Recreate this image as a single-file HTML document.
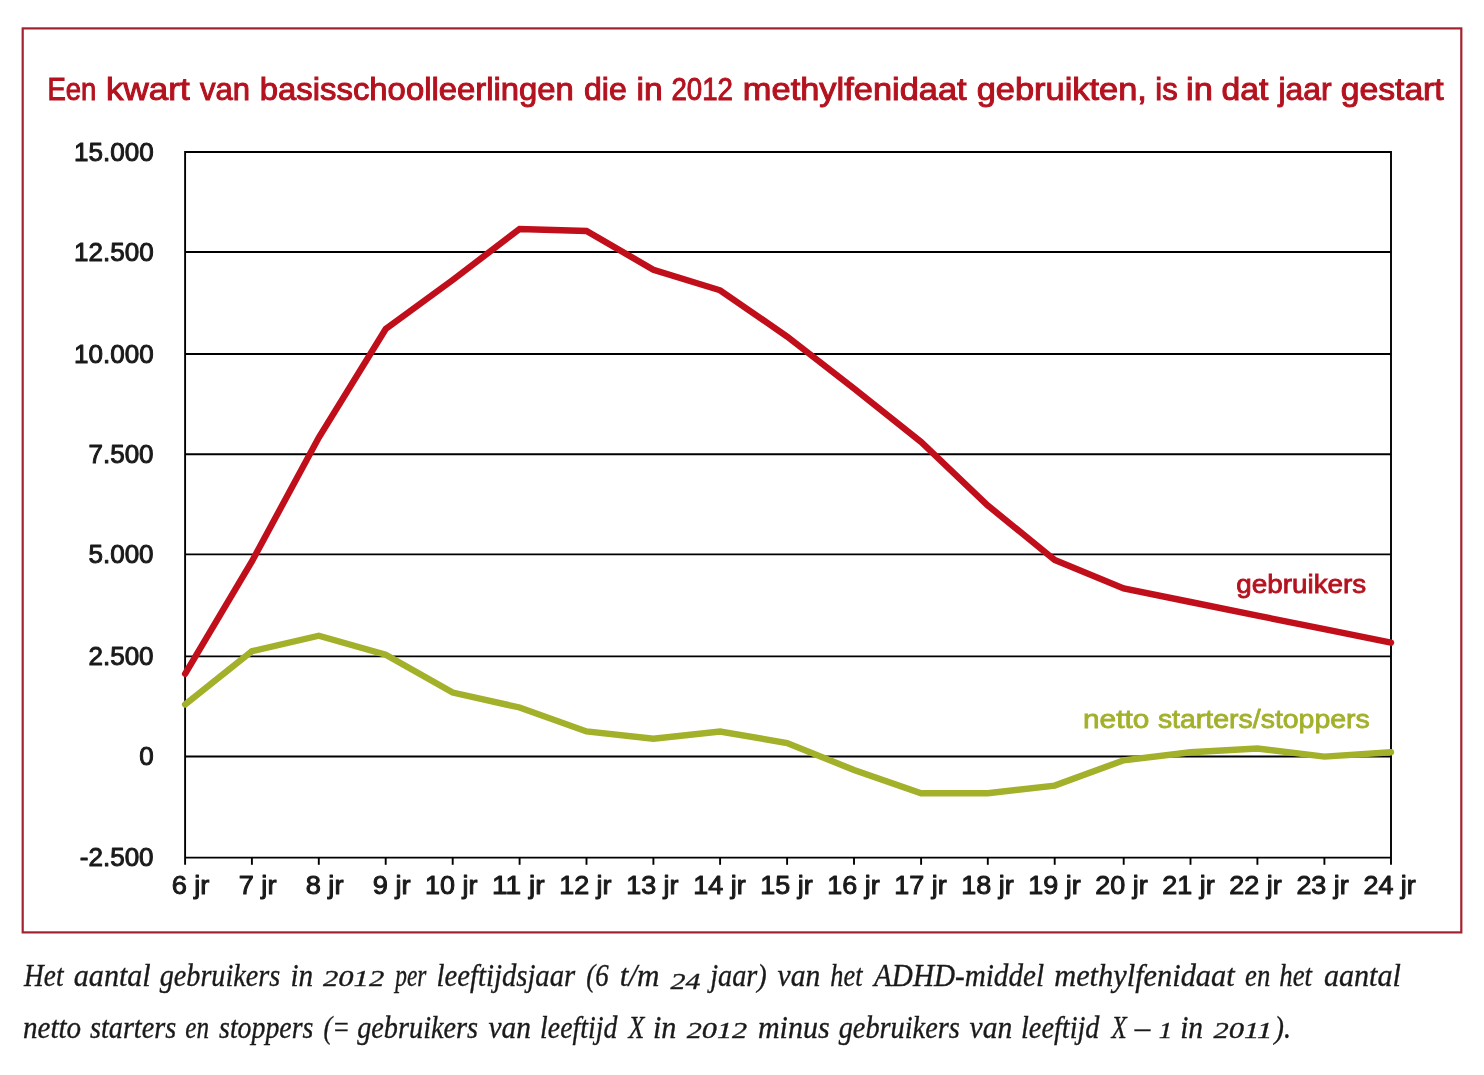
<!DOCTYPE html>
<html lang="nl"><head><meta charset="utf-8"><title>Methylfenidaat gebruikers 2012</title>
<style>
html,body{margin:0;padding:0;background:#fff;}
body{width:1484px;height:1075px;overflow:hidden;font-family:"Liberation Sans",sans-serif;}
svg{display:block;position:absolute;left:0;top:0;}
.t{font-family:"Liberation Sans",sans-serif;}
.ax{font-family:"Liberation Sans",sans-serif;font-size:26px;fill:#1a1a1a;stroke:#1a1a1a;stroke-width:1.0px;stroke-linejoin:round;}
.cap{font-family:"Liberation Serif",serif;font-style:italic;font-size:32.5px;fill:#1a1a1a;stroke:#1a1a1a;stroke-width:0.35px;}
</style></head><body>
<svg width="1484" height="1075" viewBox="0 0 1484 1075">
<rect x="0" y="0" width="1484" height="1075" fill="#ffffff"/>
<rect x="22.7" y="28.4" width="1438.6" height="904.0" fill="none" stroke="#a3222e" stroke-width="2.2"/>
<text class="t" y="100.4" font-size="32" fill="#b4121f" stroke="#b4121f" stroke-width="1.0"><tspan x="47.48" textLength="48.86" lengthAdjust="spacingAndGlyphs">Een</tspan> <tspan x="106.11" textLength="83.57" lengthAdjust="spacingAndGlyphs">kwart</tspan> <tspan x="200.10" textLength="50.04" lengthAdjust="spacingAndGlyphs">van</tspan> <tspan x="259.85" textLength="314.00" lengthAdjust="spacingAndGlyphs">basisschoolleerlingen</tspan> <tspan x="584.00" textLength="42.70" lengthAdjust="spacingAndGlyphs">die</tspan> <tspan x="636.50" textLength="26.19" lengthAdjust="spacingAndGlyphs">in</tspan> <tspan x="671.44" textLength="61.55" lengthAdjust="spacingAndGlyphs">2012</tspan> <tspan x="742.85" textLength="223.83" lengthAdjust="spacingAndGlyphs">methylfenidaat</tspan> <tspan x="976.73" textLength="170.11" lengthAdjust="spacingAndGlyphs">gebruikten,</tspan> <tspan x="1155.36" textLength="22.41" lengthAdjust="spacingAndGlyphs">is</tspan> <tspan x="1186.05" textLength="26.78" lengthAdjust="spacingAndGlyphs">in</tspan> <tspan x="1221.55" textLength="46.84" lengthAdjust="spacingAndGlyphs">dat</tspan> <tspan x="1278.49" textLength="52.97" lengthAdjust="spacingAndGlyphs">jaar</tspan> <tspan x="1340.75" textLength="102.94" lengthAdjust="spacingAndGlyphs">gestart</tspan></text>

<line x1="185.1" y1="152.0" x2="1391.0" y2="152.0" stroke="#000" stroke-width="1.9"/>
<line x1="185.1" y1="252.0" x2="1391.0" y2="252.0" stroke="#000" stroke-width="1.9"/>
<line x1="185.1" y1="354.0" x2="1391.0" y2="354.0" stroke="#000" stroke-width="1.9"/>
<line x1="185.1" y1="454.2" x2="1391.0" y2="454.2" stroke="#000" stroke-width="1.9"/>
<line x1="185.1" y1="554.35" x2="1391.0" y2="554.35" stroke="#000" stroke-width="1.9"/>
<line x1="185.1" y1="656.4" x2="1391.0" y2="656.4" stroke="#000" stroke-width="1.9"/>
<line x1="185.1" y1="756.5" x2="1391.0" y2="756.5" stroke="#000" stroke-width="1.9"/>
<line x1="185.1" y1="857.6" x2="1391.0" y2="857.6" stroke="#000" stroke-width="1.9"/>
<line x1="185.1" y1="151.0" x2="185.1" y2="864.8000000000001" stroke="#000" stroke-width="1.9"/>
<line x1="1391.0" y1="151.0" x2="1391.0" y2="864.8000000000001" stroke="#000" stroke-width="1.9"/>
<line x1="251.9" y1="857.6" x2="251.9" y2="864.8000000000001" stroke="#000" stroke-width="1.9"/>
<line x1="318.8" y1="857.6" x2="318.8" y2="864.8000000000001" stroke="#000" stroke-width="1.9"/>
<line x1="385.7" y1="857.6" x2="385.7" y2="864.8000000000001" stroke="#000" stroke-width="1.9"/>
<line x1="452.7" y1="857.6" x2="452.7" y2="864.8000000000001" stroke="#000" stroke-width="1.9"/>
<line x1="519.6" y1="857.6" x2="519.6" y2="864.8000000000001" stroke="#000" stroke-width="1.9"/>
<line x1="586.5" y1="857.6" x2="586.5" y2="864.8000000000001" stroke="#000" stroke-width="1.9"/>
<line x1="653.4" y1="857.6" x2="653.4" y2="864.8000000000001" stroke="#000" stroke-width="1.9"/>
<line x1="720.1" y1="857.6" x2="720.1" y2="864.8000000000001" stroke="#000" stroke-width="1.9"/>
<line x1="787.1" y1="857.6" x2="787.1" y2="864.8000000000001" stroke="#000" stroke-width="1.9"/>
<line x1="854.0" y1="857.6" x2="854.0" y2="864.8000000000001" stroke="#000" stroke-width="1.9"/>
<line x1="921.1" y1="857.6" x2="921.1" y2="864.8000000000001" stroke="#000" stroke-width="1.9"/>
<line x1="987.8" y1="857.6" x2="987.8" y2="864.8000000000001" stroke="#000" stroke-width="1.9"/>
<line x1="1054.7" y1="857.6" x2="1054.7" y2="864.8000000000001" stroke="#000" stroke-width="1.9"/>
<line x1="1123.7" y1="857.6" x2="1123.7" y2="864.8000000000001" stroke="#000" stroke-width="1.9"/>
<line x1="1190.5" y1="857.6" x2="1190.5" y2="864.8000000000001" stroke="#000" stroke-width="1.9"/>
<line x1="1257.4" y1="857.6" x2="1257.4" y2="864.8000000000001" stroke="#000" stroke-width="1.9"/>
<line x1="1324.4" y1="857.6" x2="1324.4" y2="864.8000000000001" stroke="#000" stroke-width="1.9"/>
<text class="ax" x="153.6" y="160.6" text-anchor="end">15.000</text>
<text class="ax" x="153.6" y="260.6" text-anchor="end">12.500</text>
<text class="ax" x="153.6" y="362.6" text-anchor="end">10.000</text>
<text class="ax" x="153.6" y="462.8" text-anchor="end">7.500</text>
<text class="ax" x="153.6" y="563.0" text-anchor="end">5.000</text>
<text class="ax" x="153.6" y="665.0" text-anchor="end">2.500</text>
<text class="ax" x="153.6" y="765.1" text-anchor="end">0</text>
<text class="ax" x="153.6" y="866.2" text-anchor="end">-2.500</text>
<text class="ax" x="171.65" y="894.3" textLength="37.79" lengthAdjust="spacingAndGlyphs">6 jr</text>
<text class="ax" x="238.67" y="894.3" textLength="37.79" lengthAdjust="spacingAndGlyphs">7 jr</text>
<text class="ax" x="305.69" y="894.3" textLength="37.79" lengthAdjust="spacingAndGlyphs">8 jr</text>
<text class="ax" x="372.71" y="894.3" textLength="37.79" lengthAdjust="spacingAndGlyphs">9 jr</text>
<text class="ax" x="425.14" y="894.3" textLength="52.38" lengthAdjust="spacingAndGlyphs">10 jr</text>
<text class="ax" x="492.12" y="894.3" textLength="52.41" lengthAdjust="spacingAndGlyphs">11 jr</text>
<text class="ax" x="559.18" y="894.3" textLength="52.38" lengthAdjust="spacingAndGlyphs">12 jr</text>
<text class="ax" x="626.20" y="894.3" textLength="52.38" lengthAdjust="spacingAndGlyphs">13 jr</text>
<text class="ax" x="693.22" y="894.3" textLength="52.38" lengthAdjust="spacingAndGlyphs">14 jr</text>
<text class="ax" x="760.24" y="894.3" textLength="52.38" lengthAdjust="spacingAndGlyphs">15 jr</text>
<text class="ax" x="827.26" y="894.3" textLength="52.38" lengthAdjust="spacingAndGlyphs">16 jr</text>
<text class="ax" x="894.28" y="894.3" textLength="52.38" lengthAdjust="spacingAndGlyphs">17 jr</text>
<text class="ax" x="961.30" y="894.3" textLength="52.38" lengthAdjust="spacingAndGlyphs">18 jr</text>
<text class="ax" x="1028.32" y="894.3" textLength="52.38" lengthAdjust="spacingAndGlyphs">19 jr</text>
<text class="ax" x="1095.34" y="894.3" textLength="52.38" lengthAdjust="spacingAndGlyphs">20 jr</text>
<text class="ax" x="1162.36" y="894.3" textLength="52.38" lengthAdjust="spacingAndGlyphs">21 jr</text>
<text class="ax" x="1229.38" y="894.3" textLength="52.38" lengthAdjust="spacingAndGlyphs">22 jr</text>
<text class="ax" x="1296.40" y="894.3" textLength="52.38" lengthAdjust="spacingAndGlyphs">23 jr</text>
<text class="ax" x="1363.42" y="894.3" textLength="52.38" lengthAdjust="spacingAndGlyphs">24 jr</text>
<polyline points="185.1,704.4 251.9,651.2 318.8,635.7 385.7,654.6 452.7,692.6 519.6,707.5 586.5,731.4 653.4,738.8 720.1,731.5 787.1,743.0 854.0,770.0 921.1,793.3 987.8,793.3 1054.7,785.6 1123.7,760.3 1190.5,752.2 1257.4,748.5 1324.4,756.6 1391.0,752.2" fill="none" stroke="#a3b02a" stroke-width="6.4" stroke-linejoin="miter" stroke-linecap="round"/>
<polyline points="185.1,673.8 251.9,561.4 318.8,437.5 385.7,329.0 452.7,280.0 519.6,229.0 586.5,231.0 653.4,269.7 720.1,290.3 787.1,336.5 854.0,388.5 921.1,441.9 987.8,505.5 1054.7,559.9 1123.7,588.5 1190.5,602.0 1257.4,615.6 1324.4,629.2 1391.0,642.7" fill="none" stroke="#c10e1b" stroke-width="6.4" stroke-linejoin="miter" stroke-linecap="round"/>
<text class="t" y="593.2" font-size="26" fill="#b4121f" stroke="#b4121f" stroke-width="0.8"><tspan x="1236.33" textLength="129.97" lengthAdjust="spacingAndGlyphs">gebruikers</tspan></text>
<text class="t" y="728.0" font-size="26" fill="#a3b02a" stroke="#a3b02a" stroke-width="0.8"><tspan x="1083.05" textLength="66.27" lengthAdjust="spacingAndGlyphs">netto</tspan> <tspan x="1157.90" textLength="211.90" lengthAdjust="spacingAndGlyphs">starters/stoppers</tspan></text>
<text class="cap" y="986.3"><tspan x="24.11" textLength="39.40" lengthAdjust="spacingAndGlyphs">Het</tspan> <tspan x="73.77" textLength="76.98" lengthAdjust="spacingAndGlyphs">aantal</tspan> <tspan x="159.78" textLength="120.41" lengthAdjust="spacingAndGlyphs">gebruikers</tspan> <tspan x="290.48" textLength="22.67" lengthAdjust="spacingAndGlyphs">in</tspan> <tspan x="323.07" font-size="22.5" textLength="61.09" lengthAdjust="spacingAndGlyphs">2012</tspan> <tspan x="395.31" textLength="31.16" lengthAdjust="spacingAndGlyphs">per</tspan> <tspan x="436.59" textLength="138.62" lengthAdjust="spacingAndGlyphs">leeftijdsjaar</tspan> <tspan x="586.25" textLength="22.36" lengthAdjust="spacingAndGlyphs">(6</tspan> <tspan x="619.82" textLength="39.65" lengthAdjust="spacingAndGlyphs">t/m</tspan> <tspan x="670.57" font-size="22.5" dy="2.5" textLength="29.98" lengthAdjust="spacingAndGlyphs">24</tspan> <tspan x="710.25" dy="-2.5" textLength="56.49" lengthAdjust="spacingAndGlyphs">jaar)</tspan> <tspan x="777.57" textLength="42.69" lengthAdjust="spacingAndGlyphs">van</tspan> <tspan x="830.37" textLength="32.07" lengthAdjust="spacingAndGlyphs">het</tspan> <tspan x="874.07" textLength="169.98" lengthAdjust="spacingAndGlyphs">ADHD-middel</tspan> <tspan x="1054.24" textLength="180.38" lengthAdjust="spacingAndGlyphs">methylfenidaat</tspan> <tspan x="1245.05" textLength="25.20" lengthAdjust="spacingAndGlyphs">en</tspan> <tspan x="1279.25" textLength="32.77" lengthAdjust="spacingAndGlyphs">het</tspan> <tspan x="1323.88" textLength="76.98" lengthAdjust="spacingAndGlyphs">aantal</tspan></text>
<text class="cap" y="1037.7"><tspan x="22.98" textLength="58.17" lengthAdjust="spacingAndGlyphs">netto</tspan> <tspan x="89.97" textLength="86.21" lengthAdjust="spacingAndGlyphs">starters</tspan> <tspan x="185.20" textLength="23.80" lengthAdjust="spacingAndGlyphs">en</tspan> <tspan x="219.08" textLength="94.20" lengthAdjust="spacingAndGlyphs">stoppers</tspan> <tspan x="323.57" textLength="26.42" lengthAdjust="spacingAndGlyphs">(=</tspan> <tspan x="357.18" textLength="120.91" lengthAdjust="spacingAndGlyphs">gebruikers</tspan> <tspan x="488.57" textLength="42.48" lengthAdjust="spacingAndGlyphs">van</tspan> <tspan x="540.12" textLength="77.16" lengthAdjust="spacingAndGlyphs">leeftijd</tspan> <tspan x="628.57" textLength="15.84" lengthAdjust="spacingAndGlyphs">X</tspan> <tspan x="652.95" textLength="23.44" lengthAdjust="spacingAndGlyphs">in</tspan> <tspan x="686.77" font-size="22.5" textLength="60.39" lengthAdjust="spacingAndGlyphs">2012</tspan> <tspan x="757.95" textLength="71.67" lengthAdjust="spacingAndGlyphs">minus</tspan> <tspan x="838.67" textLength="121.11" lengthAdjust="spacingAndGlyphs">gebruikers</tspan> <tspan x="969.57" textLength="42.58" lengthAdjust="spacingAndGlyphs">van</tspan> <tspan x="1021.01" textLength="78.47" lengthAdjust="spacingAndGlyphs">leeftijd</tspan> <tspan x="1111.51" textLength="15.23" lengthAdjust="spacingAndGlyphs">X</tspan> <tspan x="1134.63" textLength="15.48" lengthAdjust="spacingAndGlyphs">–</tspan> <tspan x="1158.67" font-size="22.5" textLength="13.56" lengthAdjust="spacingAndGlyphs">1</tspan> <tspan x="1180.17" textLength="22.89" lengthAdjust="spacingAndGlyphs">in</tspan> <tspan x="1213.47" font-size="22.5" textLength="58.80" lengthAdjust="spacingAndGlyphs">2011</tspan> <tspan x="1274.51" textLength="16.46" lengthAdjust="spacingAndGlyphs">).</tspan></text>
</svg></body></html>
